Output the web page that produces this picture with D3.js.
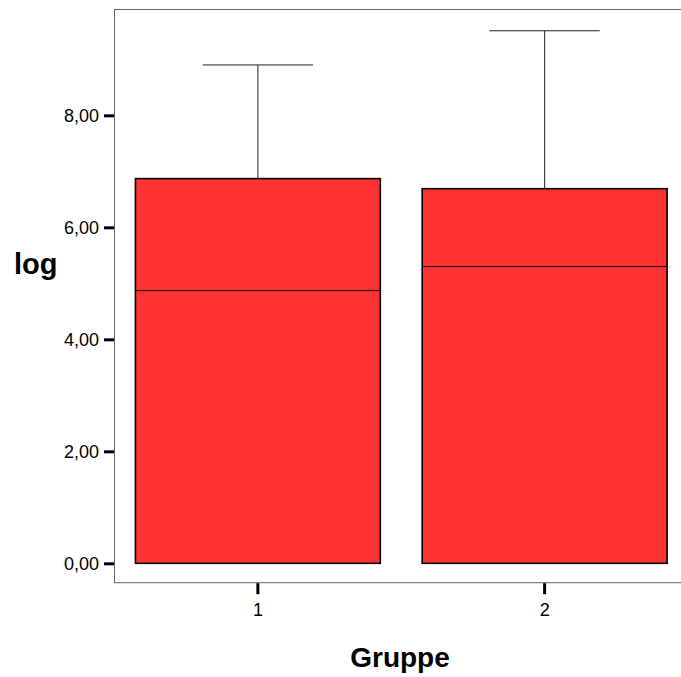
<!DOCTYPE html>
<html lang="de">
<head>
  <meta charset="utf-8">
  <title>Boxplot log nach Gruppe</title>
  <style>
    body { margin: 0; background: #fff; }
    svg { font-family: "Liberation Sans", Arial, sans-serif; }
  </style>
</head>
<body>
  <div id="chart"></div>
  <script src="https://d3js.org/d3.v7.min.js"></script>
  <script>
// values
const groups = ["1", "2"];
const whiskerLow = [0, 0];
const q1 = [0, 0];
const median = [4.87, 5.30];
const q3 = [6.87, 6.69];
const whiskerHigh = [8.90, 9.51];
const yTicks = [0, 2, 4, 6, 8];

const width = 681, height = 677;
const frame = { left: 114.5, top: 9.5, right: 688, bottom: 582.7 };

const svg = d3.select("#chart").append("svg")
    .attr("width", width)
    .attr("height", height);

const x = d3.scaleBand()
    .domain(groups)
    .range([frame.left, frame.right])
    .paddingInner(0.146)
    .paddingOuter(0.073);

const y = d3.scaleLinear()
    .domain([-0.346, 9.89])
    .range([frame.bottom, frame.top]);

// plot frame
svg.append("rect")
    .attr("x", frame.left)
    .attr("y", frame.top)
    .attr("width", frame.right - frame.left)
    .attr("height", frame.bottom - frame.top)
    .attr("fill", "none")
    .attr("stroke", "#666")
    .attr("stroke-width", 1);

const data = groups.map((g, i) => ({
    g: g, lo: whiskerLow[i], q1: q1[i], med: median[i], q3: q3[i], hi: whiskerHigh[i]
}));

const bw = x.bandwidth();
const capW = bw * 0.45;

const box = svg.selectAll("g.box")
    .data(data)
    .enter().append("g")
    .attr("class", "box");

// whiskers
box.append("line")
    .attr("x1", d => x(d.g) + bw / 2)
    .attr("x2", d => x(d.g) + bw / 2)
    .attr("y1", d => y(d.q3))
    .attr("y2", d => y(d.hi))
    .attr("stroke", "#222");
box.append("line")
    .attr("x1", d => x(d.g) + bw / 2 - capW / 2)
    .attr("x2", d => x(d.g) + bw / 2 + capW / 2)
    .attr("y1", d => y(d.hi))
    .attr("y2", d => y(d.hi))
    .attr("stroke", "#222");

box.append("rect")
    .attr("x", d => x(d.g))
    .attr("y", d => y(d.q3))
    .attr("width", bw)
    .attr("height", d => y(d.q1) - y(d.q3))
    .attr("fill", "#ff3333")
    .attr("stroke", "#000")
    .attr("stroke-width", 1.6);

box.append("line")
    .attr("x1", d => x(d.g))
    .attr("x2", d => x(d.g) + bw)
    .attr("y1", d => y(d.med))
    .attr("y2", d => y(d.med))
    .attr("stroke", "#000")
    .attr("stroke-width", 1);

// y axis
const fmt = v => d3.format(".2f")(v).replace(".", ",");
const yAxis = svg.append("g")
    .attr("transform", `translate(${frame.left - 0.5},0)`)
    .call(d3.axisLeft(y).tickValues(yTicks).tickFormat(fmt).tickSize(10).tickPadding(5));
yAxis.select(".domain").remove();
yAxis.selectAll(".tick line").attr("stroke", "#000").attr("stroke-width", 3);
yAxis.selectAll(".tick text")
    .attr("fill", "#000")
    .style("font-size", "18px")
    .style("font-family", "'Liberation Sans', Arial, sans-serif");

// x axis
const xAxis = svg.append("g")
    .attr("transform", `translate(0,${frame.bottom + 0.5})`)
    .call(d3.axisBottom(x).tickSize(11).tickPadding(9));
xAxis.select(".domain").remove();
xAxis.selectAll(".tick line").attr("stroke", "#000").attr("stroke-width", 3);
xAxis.selectAll(".tick text")
    .attr("fill", "#000")
    .style("font-size", "18px")
    .style("font-family", "'Liberation Sans', Arial, sans-serif");

// axis titles
svg.append("text")
    .attr("x", 14)
    .attr("y", 274)
    .attr("font-size", 29)
    .attr("font-weight", "bold")
    .text("log");

svg.append("text")
    .attr("x", 400)
    .attr("y", 667)
    .attr("text-anchor", "middle")
    .attr("font-size", 28)
    .attr("font-weight", "bold")
    .text("Gruppe");
  </script>
</body>
</html>
